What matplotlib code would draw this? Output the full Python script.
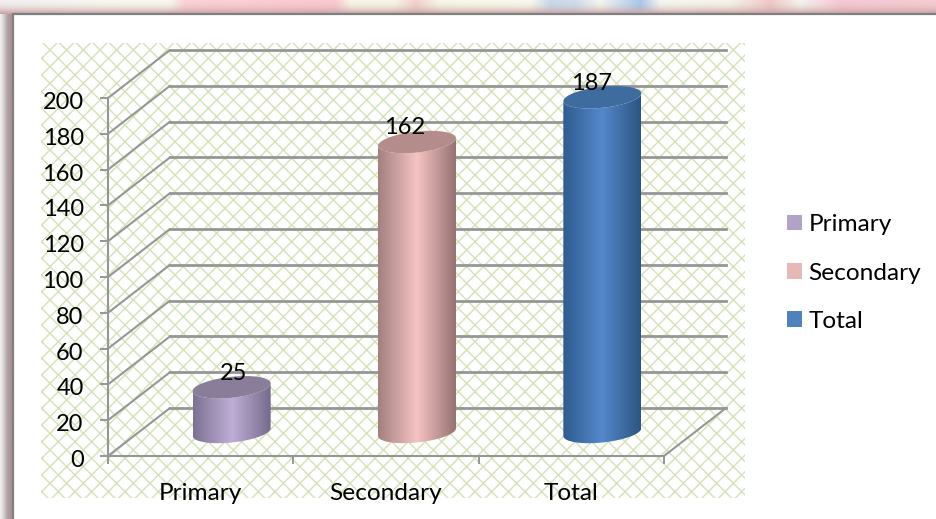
import numpy as np
import matplotlib
matplotlib.use("Agg")
import matplotlib.pyplot as plt
from matplotlib.patches import Rectangle, Patch
from matplotlib.path import Path
from matplotlib.colors import LinearSegmentedColormap, to_rgb
from matplotlib.transforms import ScaledTranslation

categories = ["Primary", "Secondary", "Total"]
values = [25, 162, 187]
y_ticks = list(range(0, 201, 20))

side_colors = [("#7d7293", "#bfadd6", "#766b8c"),
               ("#a38080", "#f7c3c3", "#957272"),
               ("#2f5c8f", "#5488cc", "#2c5480")]
top_colors = ["#8a7d9a", "#b58c8c", "#3f6c9f"]
legend_colors = ["#b3a2c7", "#e6b9b8", "#4f81bd"]
label_offsets_px = [(2, -14), (-12, -15), (-11, -14)]

W, H = 936, 519
plt.rcParams["font.family"] = ["Lato", "DejaVu Sans"]
plt.rcParams["hatch.linewidth"] = 1.0
FS = 17.6
FS_NUM = 17.0
GRID = "#969696"
fig = plt.figure(figsize=(W / 100, H / 100), dpi=100, facecolor="white")

# backdrop (picture frame and lattice), in pixel coordinates
bg = fig.add_axes([0, 0, 1, 1], zorder=0)
bg.set_xlim(0, W)
bg.set_ylim(H, 0)
bg.axis("off")

stops_x = [0, 60, 100, 170, 185, 335, 350, 395, 415, 440, 530, 550, 575, 600, 640, 660, 730, 770, 800, 840, 936]
stops_c = ["#f2eeee", "#f5f3ee", "#f7f6ef", "#f7f6ee", "#fbd0d6", "#fbc8d0", "#f8f5e6", "#f8f4e4", "#f0d0cc",
           "#f8f6e6", "#f8f8ec", "#c8d8ec", "#cfdcec", "#f4f6f0", "#a9c6ea", "#f6f6ee", "#f6f2e8", "#eec8c6",
           "#f4f2ee", "#f6c8d2", "#f4ccd2"]
rgb = np.array([to_rgb(c) for c in stops_c])
xs = np.arange(W)
strip = np.stack([np.interp(xs, stops_x, rgb[:, k]) for k in range(3)], axis=-1)
fade = np.linspace(0, 1, 14)[:, None, None] ** 2
dusk = np.array(to_rgb("#c9a5a5"))[None, None, :]
top_img = strip[None, :, :] * (1 - fade) + dusk * fade
bg.imshow(top_img, extent=(0, W, 14, 0), aspect="auto", interpolation="bilinear", zorder=1)
left = np.array([to_rgb(c) for c in ["#efecec", "#d9d6d6", "#c8c4c4", "#b8a6a8", "#ae9b9d", "#a89698"]])
bg.imshow(left[None, :, :], extent=(0, 12, H, 14), aspect="auto", interpolation="bilinear", zorder=1)
bg.add_patch(Rectangle((12, 14), W - 12, H - 14, fc="white", ec="none", zorder=2))
bg.plot([13, 13, W], [H, 14, 14], color="#808080", lw=1.6, solid_joinstyle="miter", zorder=3)
bg.set_xlim(0, W)
bg.set_ylim(H, 0)
bg.add_patch(Rectangle((41, 43), 704, 455, fc="white", ec="#d3e2b6", lw=0, hatch="xx", zorder=4))

# chart axes: the front plane of the 3-D box
L, R, T, B = 108, 664, 98, 456
ax = fig.add_axes([L / W, 1 - B / H, (R - L) / W, (B - T) / H], zorder=1)
ax.patch.set_alpha(0)
px_x = (R - L) / 3
px_y = (B - T) / 200
dx, dy = 62 / px_x, 48 / px_y

for t in y_ticks:
    ax.plot([-0.5, -0.5 + dx], [t, t + dy], color=GRID, lw=1.5, clip_on=False, zorder=1, solid_capstyle="round")
    ax.plot([-0.5 + dx, 2.5 + dx], [t + dy, t + dy], color=GRID, lw=2.0, clip_on=False, zorder=1)
ax.plot([2.5, 2.5 + dx], [0, dy], color=GRID, lw=1.5, clip_on=False, zorder=1)


def ring(t, cx, cy, a=39, b=10.5, s=0.1):
    """Points of the tilted ellipse in data units."""
    xp = a * np.cos(t)
    yp = b * np.sin(t) + s * xp
    return cx + xp / px_x, cy + yp / px_y


for i, v in enumerate(values):
    cx = i + dx / 2
    y0 = dy / 2
    y1 = y0 + v
    lo = np.linspace(np.pi, 2 * np.pi, 60)
    bx, by = ring(lo, cx, y0)
    tx, ty = ring(lo[::-1], cx, y1)
    verts = np.r_[np.c_[bx, by], np.c_[tx, ty], [[bx[0], by[0]]]]
    body = Path(verts, closed=True)
    half = 39 / px_x
    cm = LinearSegmentedColormap.from_list("c", list(side_colors[i]))
    grad = np.linspace(0, 1, 256)[None, :]
    im = ax.imshow(grad, cmap=cm, extent=(cx - half, cx + half, y0 - 14 / px_y, y1 + 14 / px_y),
                   aspect="auto", origin="lower", zorder=3, interpolation="bilinear")
    im.set_clip_box(fig.bbox)
    im.set_clip_path(body, ax.transData)
    t = np.linspace(0, 2 * np.pi, 120)
    ex, ey = ring(t, cx, y1)
    ax.fill(ex, ey, color=top_colors[i], lw=0, zorder=4, clip_on=False)
    ox, oy = label_offsets_px[i]
    ax.annotate(str(v), (cx, y1), xytext=(ox * 0.72, -oy * 0.72), textcoords="offset points",
                ha="center", va="center", fontsize=FS_NUM, color="black", zorder=6, annotation_clip=False)

ax.set_xlim(-0.5, 2.5)
ax.set_ylim(0, 200)
ax.set_yticks(y_ticks)
ax.set_xticks([0, 1, 2], categories)
ax.set_xticks([-0.5, 0.5, 1.5, 2.5], minor=True)
ax.tick_params(axis="y", length=6, width=1.4, color=GRID, pad=11.5, labelsize=FS_NUM)
ax.tick_params(axis="x", which="major", length=0, pad=19.5, labelsize=FS)
ax.tick_params(axis="x", which="minor", length=6, width=1.4, color=GRID)
shift = ScaledTranslation(0, -2.5 / 100, fig.dpi_scale_trans)
for lab in ax.get_yticklabels():
    lab.set_transform(lab.get_transform() + shift)
for s in ["top", "right"]:
    ax.spines[s].set_visible(False)
for s in ["left", "bottom"]:
    ax.spines[s].set_color(GRID)
    ax.spines[s].set_linewidth(1.5)

handles = [Patch(fc=c, ec="none", label=n) for c, n in zip(legend_colors, categories)]
fig.legend(handles=handles, loc="center left", bbox_to_anchor=(787 / W, 1 - 273 / H), frameon=False,
           fontsize=FS, handlelength=0.61, handleheight=0.61, handletextpad=0.26, labelspacing=1.12,
           borderpad=0, borderaxespad=0)

fig.savefig("out.png", dpi=100)
